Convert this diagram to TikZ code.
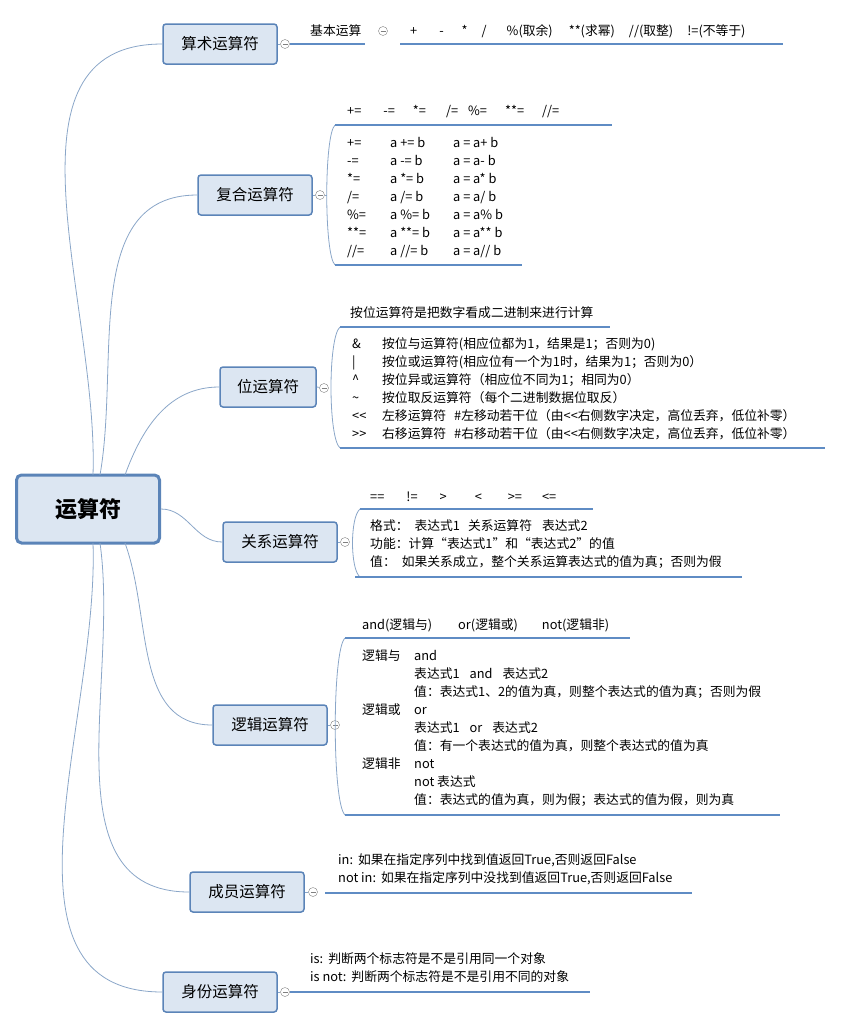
\documentclass[tikz,border=0pt]{standalone}
\usepackage{fontspec}
\setmainfont{Noto Sans CJK SC}
\usetikzlibrary{positioning}
\definecolor{boxfill}{HTML}{DCE6F2}
\definecolor{boxline}{HTML}{5B84B8}
\definecolor{ulcol}{HTML}{5F8CC4}
\definecolor{twigcol}{HTML}{8AA6C8}
\tikzset{
  topic/.style={draw=boxline, fill=boxfill, rounded corners=3pt, line width=1.5pt,
    minimum width=114pt, minimum height=40pt, font=\fontsize{15.5}{18}\selectfont},
  fold/.style={circle, draw=gray, fill=white, inner sep=0pt, minimum size=9pt,
    path picture={\draw[gray] ([xshift=-2.5pt]path picture bounding box.center)
      -- ([xshift=2.5pt]path picture bounding box.center);}},
  note/.style={anchor=west, inner sep=0pt, font=\fontsize{12.8}{18}\selectfont, align=left},
  body/.style={anchor=north west, inner sep=0pt, font=\fontsize{12.8}{18}\selectfont},
  uline/.style={draw=ulcol, line width=2.5pt},
  twig/.style={draw=twigcol, line width=0.8pt}
}
\begin{document}
\begin{tikzpicture}[x=1pt, y=-1pt]
  \useasboundingbox (0,0) rectangle (843,1029);

  % Root
  \node[topic, minimum width=143pt, minimum height=68pt, line width=3pt,
    rounded corners=5pt, font=\fontsize{22}{26}\selectfont\bfseries] (root) at (88,509) {运算符};

  % Topics
  \node[topic] (arith)  at (220,44)  {算术运算符};
  \node[topic] (assign) at (255,195) {复合运算符};
  \node[topic, minimum width=96pt] (bitop) at (268,387) {位运算符};
  \node[topic] (relop)  at (280,542) {关系运算符};
  \node[topic] (logic)  at (270,725) {逻辑运算符};
  \node[topic] (member) at (247,892) {成员运算符};
  \node[topic] (ident)  at (220,992) {身份运算符};

  % Branches
  \draw[twig] (93,475) to[out=88,in=180] (arith.west);
  \draw[twig] (100,475) to[out=80,in=180] (assign.west);
  \draw[twig] (125,475) to[out=70,in=180] (bitop.west);
  \draw[twig] (root.east) to[out=0,in=180] (relop.west);
  \draw[twig] (125,543) to[out=-70,in=180] (logic.west);
  \draw[twig] (100,543) to[out=-82,in=180] (member.west);
  \draw[twig] (93,543) to[out=-88,in=180] (ident.west);

  % Arithmetic
  \node[fold] (f1) at (285,44) {};
  \draw[twig] (arith.east) -- (f1);
  \node[note] (basic) at (310,31) {基本运算};
  \draw[uline] (290,44) -- (365,44);
  \node[fold] (f1b) at (383,31) {};
  \node[note] (ops) at (410,31) {+\hspace{22pt}-\hspace{18pt}*\hspace{14pt}/\hspace{20pt}\%(取余)\hspace{16pt}**(求幂)\hspace{14pt}//(取整)\hspace{14pt}!=(不等于)};
  \draw[uline] (400,44) -- (783,44);

  % Compound assignment
  \node[fold] (f2) at (320,195) {};
  \draw[twig] (assign.east) -- (f2);
  \draw[twig] (f2) -- (327,195);
  \draw[twig] (335,125) .. controls (324,135) and (324,255) .. (335,265);
  \node[note] (ahead) at (347,112) {+=\hspace{22pt}-=\hspace{18pt}*=\hspace{20pt}/=\hspace{10pt}\%=\hspace{18pt}**=\hspace{18pt}//=};
  \draw[uline] (335,125) -- (612,125);
  \node[body] (abody) at (347,135) {\begin{tabular}{@{}p{43pt}@{}p{63pt}@{}l@{}}
    +=  & a += b  & a = a+ b\\
    -=  & a -= b  & a = a- b\\
    {*}=  & a *= b  & a = a* b\\
    /=  & a /= b  & a = a/ b\\
    \%= & a \%= b & a = a\% b\\
    {**}= & a **= b & a = a** b\\
    //= & a //= b & a = a// b
  \end{tabular}};
  \draw[uline] (335,265) -- (522,265);

  % Bitwise
  \node[fold] (f3) at (324,388) {};
  \draw[twig] (bitop.east) -- (f3);
  \draw[twig] (340,327) .. controls (328,337) and (328,438) .. (340,448);
  \node[note] (bhead) at (350,313) {按位运算符是把数字看成二进制来进行计算};
  \draw[uline] (340,327) -- (610,327);
  \node[body] (bbody) at (352,336) {\begin{tabular}{@{}p{30pt}@{}l@{}}
    \& & 按位与运算符(相应位都为1，结果是1；否则为0)\\
    |  & 按位或运算符(相应位有一个为1时，结果为1；否则为0）\\
    \^{} & 按位异或运算符（相应位不同为1；相同为0）\\
    \textasciitilde & 按位取反运算符（每个二进制数据位取反）\\
    <{}< & 左移运算符\hspace{8pt}\#左移动若干位（由<{}<右侧数字决定，高位丢弃，低位补零）\\
    >{}> & 右移运算符\hspace{8pt}\#右移动若干位（由<{}<右侧数字决定，高位丢弃，低位补零）
  \end{tabular}};
  \draw[uline] (340,448) -- (825,448);

  % Relational
  \node[fold] (f4) at (345,542) {};
  \draw[twig] (relop.east) -- (f4);
  \draw[twig] (360,509) .. controls (350,517) and (350,569) .. (360,577);
  \node[note] (rhead) at (370,497) {==\hspace{22pt}!=\hspace{22pt}>\hspace{28pt}<\hspace{26pt}>=\hspace{20pt}<=};
  \draw[uline] (360,509) -- (593,509);
  \node[body] (rbody) at (370,518) {\begin{tabular}{@{}l@{}}
    格式：\hspace{6pt}表达式1\hspace{8pt}关系运算符\hspace{10pt}表达式2\\
    功能：计算“表达式1”和“表达式2”的值\\
    值：\hspace{6pt}如果关系成立，整个关系运算表达式的值为真；否则为假
  \end{tabular}};
  \draw[uline] (355,577) -- (742,577);

  % Logical
  \node[fold] (f5) at (335,725) {};
  \draw[twig] (logic.east) -- (f5);
  \draw[twig] (345,638) .. controls (332,650) and (332,803) .. (345,815);
  \node[note] (lhead) at (362,625) {and(逻辑与)\hspace{26pt}or(逻辑或)\hspace{24pt}not(逻辑非)};
  \draw[uline] (345,638) -- (630,638);
  \node[body] (lbody) at (362,648) {\begin{tabular}{@{}p{52pt}@{}l@{}}
    逻辑与 & and\\
      & 表达式1\hspace{10pt}and\hspace{10pt}表达式2\\
      & 值：表达式1、2的值为真，则整个表达式的值为真；否则为假\\
    逻辑或 & or\\
      & 表达式1\hspace{10pt}or\hspace{10pt}表达式2\\
      & 值：有一个表达式的值为真，则整个表达式的值为真\\
    逻辑非 & not\\
      & not 表达式\\
      & 值：表达式的值为真，则为假；表达式的值为假，则为真
  \end{tabular}};
  \draw[uline] (345,815) -- (780,815);

  % Membership
  \node[fold] (f6) at (313,892) {};
  \draw[twig] (member.east) -- (f6);
  \node[body] (mbody) at (338,852) {\begin{tabular}{@{}l@{}}
    in:\hspace{5pt}如果在指定序列中找到值返回True,否则返回False\\
    not in:\hspace{5pt}如果在指定序列中没找到值返回True,否则返回False
  \end{tabular}};
  \draw[uline] (325,893) -- (692,893);

  % Identity
  \node[fold] (f7) at (285,992) {};
  \draw[twig] (ident.east) -- (f7);
  \node[body] (ibody) at (310,951) {\begin{tabular}{@{}l@{}}
    is:\hspace{5pt}判断两个标志符是不是引用同一个对象\\
    is not:\hspace{5pt}判断两个标志符是不是引用不同的对象
  \end{tabular}};
  \draw[uline] (290,992) -- (590,992);
\end{tikzpicture}
\end{document}
